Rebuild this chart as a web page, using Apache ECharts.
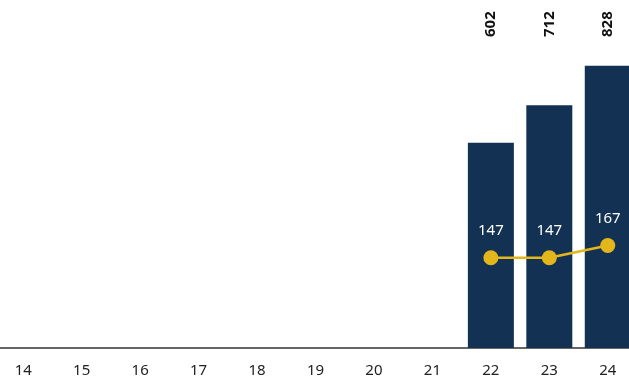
<!DOCTYPE html>
<html>
<head>
<meta charset="utf-8">
<script src="https://cdn.jsdelivr.net/npm/echarts@6/dist/echarts.min.js"></script>
<style>html,body{margin:0;padding:0;background:#fff;overflow:hidden;width:629px;height:380px}#c{position:absolute;left:-6.5px;top:0;width:643px;height:380px}</style>
</head>
<body>
<div id="c"></div>
<script>
const categories = ['14','15','16','17','18','19','20','21','22','23','24'];
const barValues = [null,null,null,null,null,null,null,null,602,712,828];
const lineValues = [null,null,null,null,null,null,null,null,147,147,167];

const topLabels = barValues.map(v => v == null ? '' : String(v));
const font = '"Noto Sans", sans-serif';

const chart = echarts.init(document.getElementById('c'), null, {renderer: 'canvas'});
chart.setOption({
  animation: false,
  grid: {left: 0, right: 0, top: 48, bottom: 32, containLabel: false},
  xAxis: [{
    type: 'category',
    data: categories,
    position: 'bottom',
    axisLine: {show: true, lineStyle: {color: '#666', width: 2}},
    axisTick: {show: false},
    axisLabel: {color: '#222', fontSize: 15, fontFamily: font, margin: 15}
  }, {
    type: 'category',
    data: topLabels,
    position: 'top',
    axisLine: {show: false},
    axisTick: {show: false},
    axisLabel: {color: '#111', fontSize: 15, fontWeight: 'bold', fontFamily: font, rotate: 90, margin: 11, interval: 0}
  }],
  yAxis: [{
    type: 'value', min: 0, max: 880, show: false, splitLine: {show: false}
  }, {
    type: 'value', min: 0, max: 489, show: false, splitLine: {show: false}
  }],
  series: [{
    type: 'bar',
    data: barValues,
    xAxisIndex: 0,
    yAxisIndex: 0,
    barWidth: 46,
    itemStyle: {color: '#133153'}
  }, {
    type: 'line',
    data: lineValues,
    xAxisIndex: 0,
    yAxisIndex: 1,
    symbol: 'circle',
    symbolSize: 15,
    connectNulls: false,
    lineStyle: {color: '#E3B71B', width: 2.5},
    itemStyle: {color: '#E3B71B'},
    label: {show: true, position: 'top', distance: 12, color: '#fff', fontSize: 15, fontFamily: font}
  }]
});
</script>
</body>
</html>
